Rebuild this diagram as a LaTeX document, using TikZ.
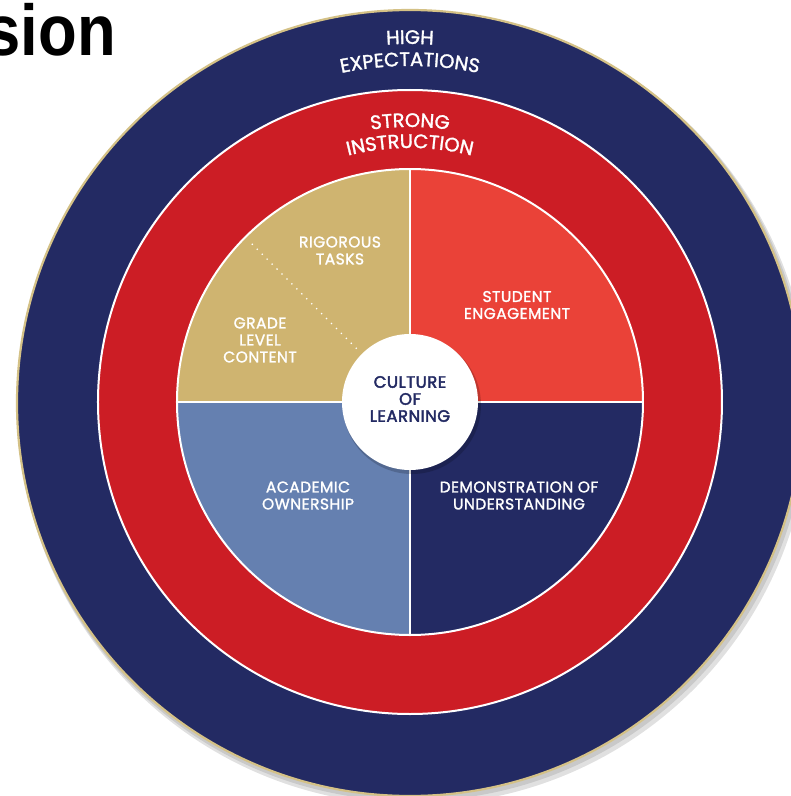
\documentclass[tikz,border=0pt]{standalone}
\usepackage{fontspec}
\setmainfont{Poppins}
\newfontfamily\labfont{Poppins}[FakeBold=1.5, LetterSpace=3]
\newfontfamily\ctrfont{Poppins}[FakeBold=2.5, LetterSpace=3]
\newfontfamily\ttlfont{Liberation Sans}[FakeStretch=0.88]
\usetikzlibrary{decorations.text}
\definecolor{navy}{HTML}{232A63}
\definecolor{ringred}{HTML}{CC1D25}
\definecolor{goldq}{HTML}{CFB470}
\definecolor{coral}{HTML}{EA4238}
\definecolor{steel}{HTML}{6580B0}
\definecolor{rimgold}{HTML}{D4C186}
\tikzset{
  lab/.style={text=white, font=\labfont\fontsize{15.5}{17}\selectfont, align=center, inner sep=0pt},
  ctr/.style={text=navy, font=\ctrfont\fontsize{16.5}{17}\selectfont, align=center, inner sep=0pt},
  divider/.style={white, line width=1.8pt},
}
\newcommand{\curvefont}{\labfont\fontsize{19.5}{19.5}\selectfont\color{white}}
\begin{document}
\begin{tikzpicture}[x=1pt,y=1pt]
\useasboundingbox (-410,-394) rectangle (381,402);
\fill[white] (-410,-394) rectangle (381,402);
% shadow of the outer disc
\fill[black, opacity=0.12] (4,-7) circle (396);
\fill[black, opacity=0.10] (2,-4) circle (395);
% outer ring
\filldraw[fill=navy, draw=rimgold, line width=2.2pt] (0,-1) circle (393);
% red ring
\filldraw[fill=ringred, draw=white, line width=2pt] (0,0) circle (312);
% quadrants
\fill[goldq] (0,0) -- (90:233) arc (90:180:233) -- cycle;
\fill[coral] (0,0) -- (0:233) arc (0:90:233) -- cycle;
\fill[steel] (0,0) -- (180:233) arc (180:270:233) -- cycle;
\fill[navy] (0,0) -- (270:233) arc (270:360:233) -- cycle;
\draw[white, line width=2pt] (0,0) circle (233);
\draw[divider] (0,233) -- (0,-233);
\draw[divider] (-233,0) -- (233,0);
% dotted split in the gold quadrant
\draw[white, line width=1.8pt, line cap=round, dash pattern=on 0pt off 7pt] (135:76) -- (135:228);
% centre disc
\fill[black, opacity=0.18] (2,-3) circle (69);
\fill[white] (0,0) circle (68);
% curved titles
\path[decorate, decoration={text along path, text align=center, text={|\curvefont|HIGH}}]
  (0,-1) ++(170:359) arc (170:10:359);
\path[decorate, decoration={text along path, text align=center, text={|\curvefont|EXPECTATIONS}}]
  (0,-1) ++(170:337) arc (170:10:337);
\path[decorate, decoration={text along path, text align=center, text={|\curvefont|STRONG}}]
  (0,0) ++(170:275) arc (170:10:275);
\path[decorate, decoration={text along path, text align=center, text={|\curvefont|INSTRUCTION}}]
  (0,0) ++(170:254) arc (170:10:254);
% labels
\node[lab] (rig) at (-70,151.5) {RIGOROUS\\TASKS};
\node[lab] (grade) at (-150,62) {GRADE\\LEVEL\\CONTENT};
\node[lab] (stud) at (107,97) {STUDENT\\ENGAGEMENT};
\node[lab] (acad) at (-102,-93.5) {ACADEMIC\\OWNERSHIP};
\node[lab] (demo) at (109,-93.5) {DEMONSTRATION OF\\UNDERSTANDING};
\node[ctr] (cult) at (0,3) {CULTURE\\OF\\LEARNING};
% title fragment
\node[anchor=base east, inner sep=0pt, font=\ttlfont\bfseries\fontsize{72}{72}\selectfont] (title) at (-294,346) {sion};
\end{tikzpicture}
\end{document}
